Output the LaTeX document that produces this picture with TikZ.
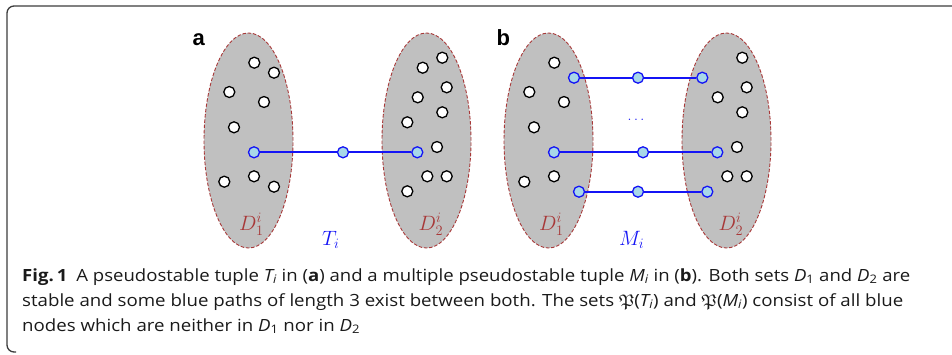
\documentclass[tikz,border=0pt]{standalone}
\usepackage{amssymb}
\usepackage{graphicx}
\usepackage[no-math]{fontspec}
\setmainfont{Open Sans}
\newfontfamily\labfont{Liberation Sans}
\usetikzlibrary{shapes.geometric}
\definecolor{setfill}{HTML}{C0C0C0}
\definecolor{setline}{HTML}{A83838}
\definecolor{pblue}{HTML}{1414F5}
\definecolor{pfill}{HTML}{A8D8E8}
\definecolor{framec}{HTML}{3C3C3C}
\definecolor{capc}{HTML}{1A1A1A}
\begin{document}
\begin{tikzpicture}[x=1pt,y=-1pt,
 setell/.style={ellipse, draw=setline, fill=setfill, dash pattern=on 3.5pt off 1.8pt, line width=0.9pt, minimum width=89pt, minimum height=215pt, inner sep=0pt},
 wdot/.style={circle, draw=black, fill=white, line width=1.3pt, minimum size=11pt, inner sep=0pt},
 bdot/.style={circle, draw=pblue, fill=pfill, line width=1.3pt, minimum size=11pt, inner sep=0pt},
 pathline/.style={draw=pblue, line width=2pt},
 dlab/.style={text=setline, font=\fontsize{20}{24}\selectfont, anchor=base west, inner sep=0pt},
 blab/.style={text=pblue, font=\fontsize{20}{24}\selectfont, anchor=base west, inner sep=0pt},
 plab/.style={font=\labfont\bfseries\fontsize{22}{24}\selectfont, anchor=base west, inner sep=0pt},
 capline/.style={text=capc, font=\fontsize{16.8}{20}\selectfont, anchor=base west, inner sep=0pt},
 framestyle/.style={draw=framec, line width=1.3pt, rounded corners=7pt}
]
\useasboundingbox (0,0) rectangle (952,354);
\draw[framestyle] (960,6) -- (7,6) -- (7,352) -- (16,352);

% ---------------- panel a ----------------
\node[plab] (la) at (192.5,45.5) {a};
\node[setell] (aS1) at (248.5,140.5) {};
\node[setell] (aS2) at (426.5,140.5) {};
\foreach \x/\y [count=\k] in {254.3/62.7,274/72.7,229.3/92,264/102,234/127.3,254/176.3,224.3/181.7,274/186.7}
  \node[wdot] (aL\k) at (\x,\y) {};
\foreach \x/\y [count=\k] in {442.3/57.7,422.7/67.7,446.7/87.3,417.7/97.3,442.3/112.3,407.3/122.3,437/147,427.3/176.3,446.7/176.3,407.3/191.3}
  \node[wdot] (aR\k) at (\x,\y) {};
\node[bdot] (aP1) at (254,152.3) {};
\node[bdot] (aP2) at (343,152.3) {};
\node[bdot] (aP3) at (417.3,152.3) {};
\draw[pathline] (aP1) -- (aP2) -- (aP3);
\node[dlab] (aD1) at (239,230) {$D_1^i$};
\node[dlab] (aD2) at (418.5,230) {$D_2^i$};
\node[blab] (aT) at (322,245) {$T_i$};

% ---------------- panel b ----------------
\node[plab] (lb) at (496.5,45.5) {b};
\node[setell] (bS1) at (548.5,140.5) {};
\node[setell] (bS2) at (726.5,140.5) {};
\foreach \x/\y [count=\k] in {554.3/62.7,529.3/92,564/102,534/127.3,554/176.3,524.3/181.7}
  \node[wdot] (bL\k) at (\x,\y) {};
\foreach \x/\y [count=\k] in {742.3/57.7,746.7/87.3,717.7/97.3,742.3/112.3,737/147,727.3/176.3,746.7/176.3}
  \node[wdot] (bR\k) at (\x,\y) {};
\node[bdot] (bA1) at (574,77.7) {};
\node[bdot] (bA2) at (638,77.7) {};
\node[bdot] (bA3) at (702.3,77.7) {};
\node[bdot] (bB1) at (554,152.3) {};
\node[bdot] (bB2) at (643,152.3) {};
\node[bdot] (bB3) at (717.3,152.3) {};
\node[bdot] (bC1) at (579,191.7) {};
\node[bdot] (bC2) at (638,191.7) {};
\node[bdot] (bC3) at (707.3,191.7) {};
\draw[pathline] (bA1) -- (bA2) -- (bA3);
\draw[pathline] (bB1) -- (bB2) -- (bB3);
\draw[pathline] (bC1) -- (bC2) -- (bC3);
\node[text=pblue, font=\fontsize{14}{16}\selectfont, inner sep=0pt] (bdots) at (636,120) {$\ldots$};
\node[dlab] (bD1) at (539,230) {$D_1^i$};
\node[dlab] (bD2) at (718.5,230) {$D_2^i$};
\node[blab] (bM) at (619,245) {$M_i$};

% ---------------- caption ----------------
\node[capline] (cap1) at (22,281) {\resizebox{888pt}{\height}{\textbf{Fig.\,1}\hspace{8pt}A pseudostable tuple \textit{T\textsubscript{i}} in (\textbf{a}) and a multiple pseudostable tuple \textit{M\textsubscript{i}} in (\textbf{b}). Both sets \textit{D}\textsubscript{1} and \textit{D}\textsubscript{2} are}};
\node[capline] (cap2) at (22,306) {\resizebox{881pt}{\height}{stable and some blue paths of length 3 exist between both. The sets $\mathfrak{P}$(\textit{T\textsubscript{i}}) and $\mathfrak{P}$(\textit{M\textsubscript{i}}) consist of all blue}};
\node[capline] (cap3) at (22,331) {\resizebox{338pt}{\height}{nodes which are neither in \textit{D}\textsubscript{1} nor in \textit{D}\textsubscript{2}}};
\end{tikzpicture}
\end{document}
